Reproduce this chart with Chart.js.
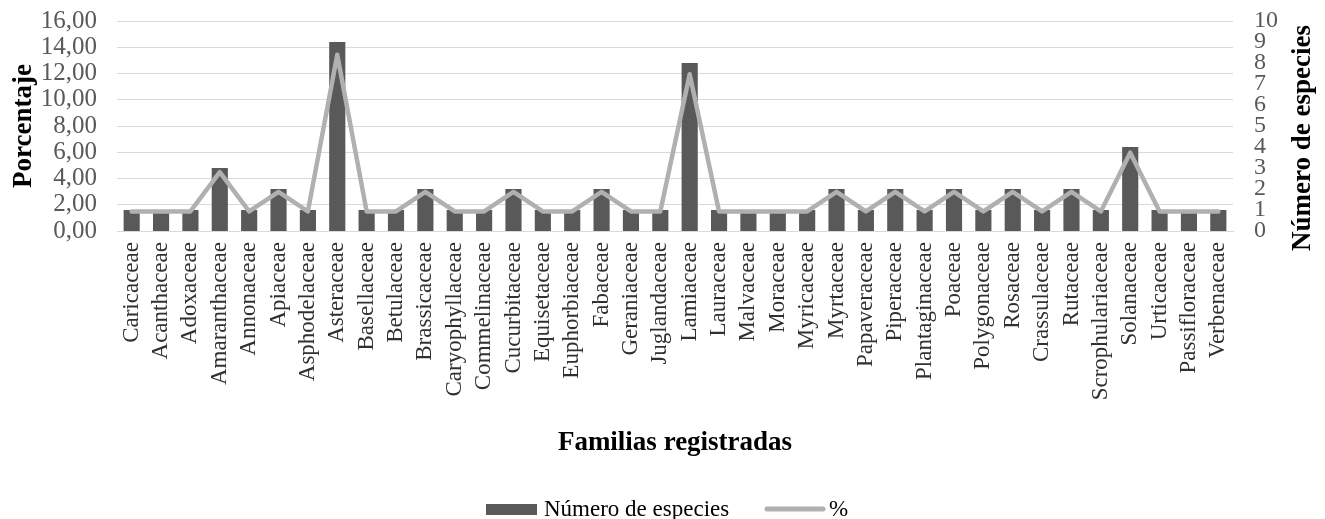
<!DOCTYPE html>
<html>
<head>
<meta charset="utf-8">
<script src="https://cdn.jsdelivr.net/npm/chart.js@4.4.1/dist/chart.umd.min.js"></script>
<style>
  html, body { margin: 0; padding: 0; background: #fff; }
  #wrap { width: 1325px; height: 519px; position: relative; }
</style>
</head>
<body>
<div id="wrap"><canvas id="c" width="1325" height="519"></canvas></div>
<script>
// Familias botánicas registradas
const familias = [
  'Caricaceae', 'Acanthaceae', 'Adoxaceae', 'Amaranthaceae', 'Annonaceae',
  'Apiaceae', 'Asphodelaceae', 'Asteraceae', 'Basellaceae', 'Betulaceae',
  'Brassicaceae', 'Caryophyllaceae', 'Commelinaceae', 'Cucurbitaceae', 'Equisetaceae',
  'Euphorbiaceae', 'Fabaceae', 'Geraniaceae', 'Juglandaceae', 'Lamiaceae',
  'Lauraceae', 'Malvaceae', 'Moraceae', 'Myricaceae', 'Myrtaceae',
  'Papaveraceae', 'Piperaceae', 'Plantaginaceae', 'Poaceae', 'Polygonaceae',
  'Rosaceae', 'Crassulaceae', 'Rutaceae', 'Scrophulariaceae', 'Solanaceae',
  'Urticaceae', 'Passifloraceae', 'Verbenaceae'
];

// Número de especies por familia (eje derecho)
const numeroEspecies = [
  1, 1, 1, 3, 1,
  2, 1, 9, 1, 1,
  2, 1, 1, 2, 1,
  1, 2, 1, 1, 8,
  1, 1, 1, 1, 2,
  1, 2, 1, 2, 1,
  2, 1, 2, 1, 4,
  1, 1, 1
];

// Porcentaje de especies por familia (eje izquierdo)
const porcentaje = [
  1.49, 1.49, 1.49, 4.48, 1.49,
  2.99, 1.49, 13.43, 1.49, 1.49,
  2.99, 1.49, 1.49, 2.99, 1.49,
  1.49, 2.99, 1.49, 1.49, 11.94,
  1.49, 1.49, 1.49, 1.49, 2.99,
  1.49, 2.99, 1.49, 2.99, 1.49,
  2.99, 1.49, 2.99, 1.49, 5.97,
  1.49, 1.49, 1.49
];

// Marcas de los ejes
const ticksPorcentaje = [0, 2, 4, 6, 8, 10, 12, 14, 16];
const ticksEspecies = [0, 1, 2, 3, 4, 5, 6, 7, 8, 9, 10];

const SERIF = '"Liberation Serif", "Times New Roman", serif';
const COLOR_BARRA = '#595959';
const COLOR_LINEA = '#B0B0B0';

// Títulos de ejes y leyenda dibujados a mano
const decoraciones = {
  id: 'decoraciones',
  afterDraw(chart) {
    const ctx = chart.ctx;
    ctx.save();
    ctx.fillStyle = '#000';
    ctx.font = 'bold 27px ' + SERIF;
    ctx.textAlign = 'center';
    ctx.textBaseline = 'middle';

    // Título eje izquierdo
    ctx.save();
    ctx.translate(24, 126);
    ctx.rotate(-Math.PI / 2);
    ctx.fillText('Porcentaje', 0, 0);
    ctx.restore();

    // Título eje derecho
    ctx.save();
    ctx.translate(1303, 138);
    ctx.rotate(-Math.PI / 2);
    ctx.fillText('Número de especies', 0, 0);
    ctx.restore();

    // Título eje horizontal
    ctx.fillText('Familias registradas', 675, 443);

    // Leyenda
    const ly = 509;
    ctx.fillStyle = COLOR_BARRA;
    ctx.fillRect(486, ly - 5, 51, 11);
    ctx.font = '23px ' + SERIF;
    ctx.fillStyle = '#000';
    ctx.textAlign = 'left';
    ctx.fillText('Número de especies', 544, ly + 1);
    ctx.strokeStyle = COLOR_LINEA;
    ctx.lineWidth = 5;
    ctx.lineCap = 'round';
    ctx.beginPath();
    ctx.moveTo(767, ly);
    ctx.lineTo(823, ly);
    ctx.stroke();
    ctx.fillText('%', 829, ly + 1);
    ctx.restore();
  }
};

// Sin márgenes extra de las etiquetas de los ejes
function sinRelleno(scale) {
  scale.paddingTop = 0;
  scale.paddingBottom = 0;
  scale.paddingLeft = 0;
  scale.paddingRight = 0;
}

new Chart(document.getElementById('c'), {
  data: {
    labels: familias,
    datasets: [
      {
        type: 'line',
        label: '%',
        data: porcentaje,
        yAxisID: 'yPct',
        borderColor: COLOR_LINEA,
        backgroundColor: COLOR_LINEA,
        borderWidth: 4.5,
        pointRadius: 0,
        tension: 0,
        borderJoinStyle: 'round',
        borderCapStyle: 'round',
        order: 0
      },
      {
        type: 'bar',
        label: 'Número de especies',
        data: numeroEspecies,
        yAxisID: 'yEsp',
        backgroundColor: COLOR_BARRA,
        borderWidth: 0,
        barPercentage: 0.55,
        categoryPercentage: 1.0,
        order: 1
      }
    ]
  },
  options: {
    responsive: false,
    animation: false,
    devicePixelRatio: 1,
    layout: { padding: { top: 21, bottom: 0, left: 0, right: 0 } },
    plugins: {
      legend: { display: false },
      tooltip: { enabled: false }
    },
    scales: {
      x: {
        position: 'bottom',
        grid: { display: false, drawTicks: false },
        border: { display: true, color: '#D9D9D9', width: 1 },
        ticks: {
          autoSkip: false,
          maxRotation: 90,
          minRotation: 90,
          padding: 11,
          color: '#303030',
          font: { family: SERIF, size: 23 }
        },
        afterFit(scale) { scale.height = 288; sinRelleno(scale); }
      },
      yPct: {
        position: 'left',
        min: 0,
        max: 16,
        afterBuildTicks(scale) { scale.ticks = ticksPorcentaje.map(v => ({ value: v })); },
        grid: { color: '#D9D9D9', lineWidth: 1, drawTicks: false },
        border: { display: false },
        ticks: {
          autoSkip: false,
          padding: 20,
          color: '#595959',
          font: { family: SERIF, size: 25, lineHeight: 1 },
          callback: v => v.toFixed(2).replace('.', ',')
        },
        afterFit(scale) { scale.width = 117; sinRelleno(scale); }
      },
      yEsp: {
        position: 'right',
        min: 0,
        max: 10,
        afterBuildTicks(scale) { scale.ticks = ticksEspecies.map(v => ({ value: v })); },
        grid: { display: false, drawTicks: false },
        border: { display: false },
        ticks: {
          autoSkip: false,
          padding: 21,
          color: '#595959',
          font: { family: SERIF, size: 24, lineHeight: 1 },
          callback: v => String(v)
        },
        afterFit(scale) { scale.width = 92; sinRelleno(scale); }
      }
    }
  },
  plugins: [decoraciones]
});
</script>
</body>
</html>
